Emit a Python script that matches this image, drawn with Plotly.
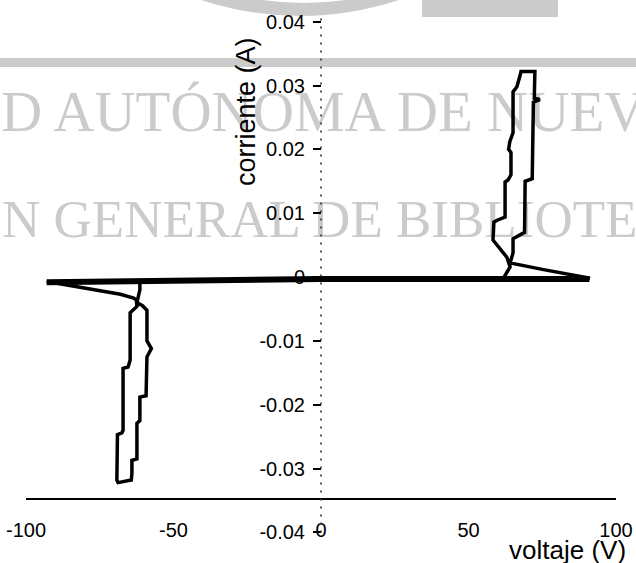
import plotly.graph_objects as go

# ---------------- data ----------------
main_v = [-93.0, -80.0, -60.0, -40.0, -20.0, 0.0, 20.0, 40.0, 60.0, 80.0, 91.0]
main_i = [-0.0008, -0.0007, -0.0006, -0.0005, -0.0004, -0.0003, -0.0003, -0.0003, -0.0003, -0.0003, -0.0003]

left_v = [-93.0, -78.0, -68.0, -63.5, -62.6, -62.4, -64.7, -64.7, -65.4, -67.1, -67.1,
          -67.5, -69.0, -69.2, -68.8, -64.3, -64.1, -64.1, -62.4, -62.4, -61.4, -61.4,
          -59.3, -59.0, -57.5, -59.0, -59.0, -60.5, -62.4, -61.4, -61.4]
left_i = [-0.0007, -0.0019, -0.0027, -0.0033, -0.0036, -0.0046, -0.0056, -0.0130, -0.0141, -0.0143, -0.0240,
          -0.0244, -0.0247, -0.0318, -0.0322, -0.0318, -0.0307, -0.0287, -0.0285, -0.0229, -0.0225, -0.0188,
          -0.0186, -0.0125, -0.0112, -0.0100, -0.0052, -0.0045, -0.0040, -0.0020, -0.0004]

right_v = [61.7, 64.1, 63.0, 58.3, 58.6, 59.7, 62.4, 62.4, 63.4, 64.4, 64.4, 63.6, 64.0, 65.1, 65.1,
           66.4, 67.5, 67.8, 72.5, 72.3, 74.2, 72.0, 71.6, 69.2, 69.0, 65.1, 65.1, 64.1, 75.0, 91.2]
right_i = [-0.0003, 0.0016, 0.0031, 0.0058, 0.0086, 0.0089, 0.0094, 0.0149, 0.0152, 0.0160, 0.0195, 0.0200,
           0.0212, 0.0226, 0.0290, 0.0298, 0.0316, 0.0322, 0.0322, 0.0280, 0.0278, 0.0274, 0.0154, 0.0150,
           0.0070, 0.0060, 0.0038, 0.0022, 0.0012, -0.0002]

x_ticks = [-100, -50, 0, 50, 100]
x_tick_text = ["-100", "-50", "0", "50", "100"]
y_ticks = [-0.04, -0.03, -0.02, -0.01, 0.0, 0.01, 0.02, 0.03, 0.04]
y_tick_text = ["-0.04", "-0.03", "-0.02", "-0.01", "0", "0.01", "0.02", "0.03", "0.04"]

x_title = "voltaje (V)"
y_title = "corriente (A)"
watermark_1 = "D AUTÓNOMA DE NUEV"
watermark_2 = "N GENERAL DE BIBLIOTE"

# ---------------- layout geometry ----------------
W, H = 636, 563
ML, MR, MT, MB = 26, 20, 14, 21
PW, PH = W - ML - MR, H - MT - MB


def px(p):
    return (p - ML) / PW


def py(p):
    return (H - MB - p) / PH


SANS = "Liberation Sans, Arial, sans-serif"
SERIF = "Liberation Serif, Times New Roman, serif"
GRAY = "#cbcbcb"

fig = go.Figure()
fig.add_trace(go.Scatter(x=main_v, y=main_i, mode="lines",
                         line=dict(color="black", width=6), hoverinfo="skip"))
fig.add_trace(go.Scatter(x=left_v, y=left_i, mode="lines",
                         line=dict(color="black", width=3.5), hoverinfo="skip"))
fig.add_trace(go.Scatter(x=right_v, y=right_i, mode="lines",
                         line=dict(color="black", width=3.5), hoverinfo="skip"))

shapes = [
    # watermark band
    dict(type="rect", xref="paper", yref="paper", layer="below",
         x0=px(0), x1=px(W), y0=py(67), y1=py(58),
         fillcolor=GRAY, line=dict(width=0)),
    # watermark big letter fragments at top
    dict(type="path", xref="paper", yref="paper", layer="below",
         path=(f"M {px(195)},{py(-2)} Q {px(300)},{py(34)} {px(405)},{py(-2)} "
               f"L {px(357)},{py(-2)} Q {px(304)},{py(8)} {px(251)},{py(-2)} Z"),
         fillcolor=GRAY, line=dict(width=0)),
    dict(type="rect", xref="paper", yref="paper", layer="below",
         x0=px(422), x1=px(558), y0=py(17), y1=py(-2),
         fillcolor=GRAY, line=dict(width=0)),
    # watermark text lines
    dict(type="rect", xref="paper", yref="paper", layer="below",
         x0=px(-2), x1=px(900), y0=py(124), y1=py(86),
         fillcolor="rgba(0,0,0,0)", line=dict(width=0),
         label=dict(text=watermark_1, textposition="middle left", padding=0,
                    font=dict(family=SERIF, size=57, color=GRAY))),
    dict(type="rect", xref="paper", yref="paper", layer="below",
         x0=px(-1), x1=px(900), y0=py(231), y1=py(194),
         fillcolor="rgba(0,0,0,0)", line=dict(width=0),
         label=dict(text=watermark_2, textposition="middle left", padding=0,
                    font=dict(family=SERIF, size=53, color=GRAY))),
    # dotted vertical axis line at x = 0
    dict(type="line", xref="x", yref="y", layer="above",
         x0=0, x1=0, y0=0.0405, y1=-0.0405,
         line=dict(color="#333333", width=1.6, dash="2px,6px")),
]

fig.update_layout(
    width=W, height=H,
    margin=dict(l=ML, r=MR, t=MT, b=MB, autoexpand=False),
    paper_bgcolor="white",
    plot_bgcolor="rgba(0,0,0,0)",
    showlegend=False,
    shapes=shapes,
    font=dict(family=SANS, color="black"),
    xaxis=dict(range=[-100, 100], anchor="free", position=py(499),
               showgrid=False, zeroline=False, showline=True,
               linecolor="black", linewidth=1.6, ticks="",
               tickvals=x_ticks, ticktext=x_tick_text,
               ticklabelstandoff=13,
               tickfont=dict(family=SANS, size=20, color="black")),
    yaxis=dict(range=[-0.0415, 0.0412], anchor="free", position=px(321),
               showgrid=False, zeroline=False, showline=False,
               ticks="outside", ticklen=8, tickwidth=1.6, tickcolor="black",
               tickvals=y_ticks, ticktext=y_tick_text,
               ticklabelstandoff=4,
               tickfont=dict(family=SANS, size=20, color="black")),
    annotations=[
        dict(text=y_title, xref="paper", yref="paper", x=px(246), y=py(112),
             xanchor="center", yanchor="middle", textangle=-90, showarrow=False,
             font=dict(family=SANS, size=27, color="black")),
        dict(text=x_title, xref="paper", yref="paper", x=px(567), y=py(550),
             xanchor="center", yanchor="middle", showarrow=False,
             font=dict(family=SANS, size=26, color="black")),
    ],
)

fig.write_html(
    "out.html",
    config={"displayModeBar": False},
    post_script="document.body.style.margin='0';document.body.style.overflow='hidden';",
)
